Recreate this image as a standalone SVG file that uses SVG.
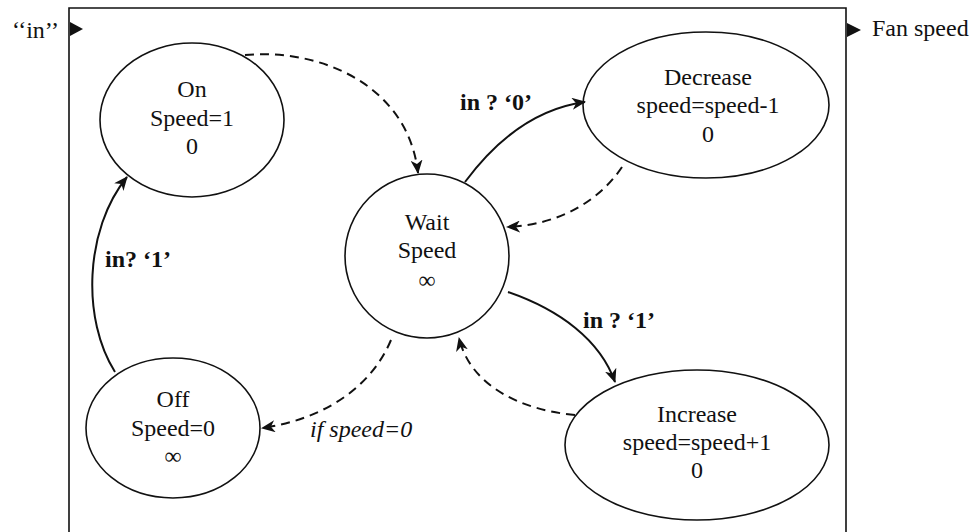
<svg xmlns="http://www.w3.org/2000/svg" width="977" height="532" viewBox="0 0 977 532" font-family="'Liberation Serif', 'DejaVu Serif', serif">
<defs>
<style>
text{font-family:'Liberation Serif','DejaVu Serif','Times New Roman',serif;font-size:24px;fill:#111}
.n{text-anchor:middle}
.b{font-weight:bold}
.i{font-style:italic}
.sh{fill:none;stroke:#111;stroke-width:1.6}
.c{fill:none;stroke:#111;stroke-width:2}
.d{stroke-dasharray:9,6}
</style>
<marker id="ah" viewBox="0 0 14 12" refX="13" refY="6" markerWidth="14" markerHeight="12" markerUnits="userSpaceOnUse" orient="auto">
<path d="M0,0 L14,6 L0,12 L4,6 z" fill="#111"/>
</marker>
</defs>
<rect width="977" height="532" fill="#fff"/>
<g id="frame">
<path class="sh" d="M69,540 V8 H846 V540"/>
<path d="M70,22 L83,29 L70,36 z" fill="#111"/>
<path d="M847,23 L861,30 L847,37 z" fill="#111"/>
<text x="12" y="38">‘‘in’’</text>
<text x="872" y="36">Fan speed</text>
</g>
<g id="on">
<ellipse class="sh" cx="192" cy="120" rx="92" ry="77"/>
<text class="n" x="192" y="97">On</text>
<text class="n" x="192" y="126">Speed=1</text>
<text class="n" x="192" y="154">0</text>
</g>
<g id="wait">
<circle class="sh" cx="427" cy="256" r="82"/>
<text class="n" x="427" y="230">Wait</text>
<text class="n" x="427" y="258">Speed</text>
<text class="n" x="427" y="288">∞</text>
</g>
<g id="decrease">
<ellipse class="sh" cx="706" cy="105" rx="123" ry="73"/>
<text class="n" x="708" y="85">Decrease</text>
<text class="n" x="708" y="113">speed=speed-1</text>
<text class="n" x="708" y="142">0</text>
</g>
<g id="off">
<ellipse class="sh" cx="173" cy="428" rx="87" ry="70"/>
<text class="n" x="173" y="407">Off</text>
<text class="n" x="173" y="436">Speed=0</text>
<text class="n" x="173" y="464">∞</text>
</g>
<g id="increase">
<ellipse class="sh" cx="697" cy="445" rx="132" ry="75"/>
<text class="n" x="697" y="422">Increase</text>
<text class="n" x="697" y="450">speed=speed+1</text>
<text class="n" x="697" y="478">0</text>
</g>
<g id="connectors">
<path class="c d" d="M245,55 C320,48 408,85 418,173" marker-end="url(#ah)"/>
<path class="c" d="M115,372 C82,320 84,230 127,177" marker-end="url(#ah)"/>
<path class="c" d="M465,182 C500,135 540,108 585,102" marker-end="url(#ah)"/>
<path class="c d" d="M622,167 C600,200 560,225 507,227" marker-end="url(#ah)"/>
<path class="c" d="M508,292 C560,310 600,340 615,382" marker-end="url(#ah)"/>
<path class="c d" d="M575,415 C520,410 470,385 459,338" marker-end="url(#ah)"/>
<path class="c d" d="M391,340 C370,390 320,420 262,428" marker-end="url(#ah)"/>
<text class="b" x="460" y="110">in ? ‘0’</text>
<text class="b" x="105" y="267">in? ‘1’</text>
<text class="b" x="583" y="328">in ? ‘1’</text>
<text class="i" x="310" y="437">if speed=0</text>
</g>
</svg>
